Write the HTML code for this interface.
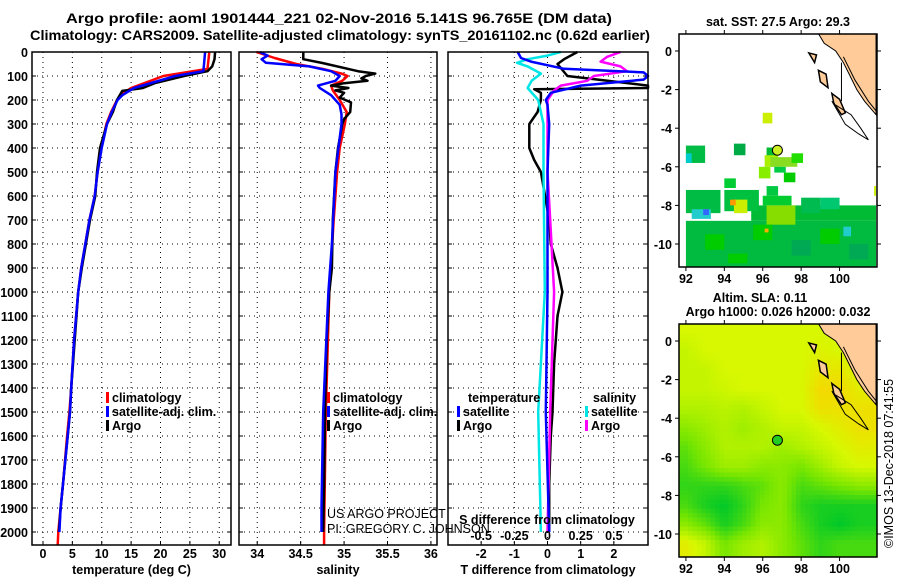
<!DOCTYPE html>
<html><head><meta charset="utf-8"><style>
html,body{margin:0;padding:0;background:#fff;}
svg{display:block;font-family:"Liberation Sans",sans-serif;}
.t{font-weight:bold;font-size:12.5px;fill:#000;}
.h{font-weight:bold;font-size:14px;fill:#000;}
</style></head><body>
<svg id="c" width="900" height="580" viewBox="0 0 900 580">
<rect width="900" height="580" fill="#fff"/>
<text class="h" x="66" y="23" textLength="546" lengthAdjust="spacingAndGlyphs">Argo profile: aoml 1901444_221 02-Nov-2016 5.141S 96.765E (DM data)</text>
<text class="h" x="30" y="40" textLength="620" lengthAdjust="spacingAndGlyphs">Climatology: CARS2009. Satellite-adjusted climatology: synTS_20161102.nc (0.62d earlier)</text>
</svg>
<script>
// ---------- data ----------
const depthTicks=[0,100,200,300,400,500,600,700,800,900,1000,1100,1200,1300,1400,1500,1600,1700,1800,1900,2000];
const tempTicks=[0,5,10,15,20,25,30];
const salTicks=[34,34.5,35,35.5,36];
const tdiffTicks=[-2,-1,0,1,2];
const sdiffTickLabels=["-0.5","-0.25","0","0.25","0.5"];
const tempArgoD=[0,30,60,80,100,130,150,162,200,250,300,400,500,600,700,800,900,1000,1100,1200,1300,1400,1500,1600,1700,1800,1900,2000];
const tempArgoV=[29.3,29.2,28.8,28.0,24,19,17,13.5,12.6,11.9,10.9,9.7,9.2,8.9,8.0,7.3,6.6,6.0,5.7,5.4,5.1,4.8,4.6,4.2,3.8,3.4,3.0,2.7];
const tempClimD=[0,70,100,150,180,200,250,300,400,500,600,700,800,900,1000,1200,1400,1500,1600,1800,1900,2000,2054];
const tempClimV=[28.3,28.0,20.5,15,13.2,12.6,11.6,10.8,9.9,9.3,8.8,7.9,7.2,6.5,6.0,5.3,4.8,4.5,4.1,3.4,3.0,2.6,2.5];
const tempSatD=[0,80,100,150,180,200,250,300,400,500,600,700,800,900,1000,1200,1400,1500,1600,1800,1900,2000];
const tempSatV=[27.6,27.3,22.5,15.5,13.5,12.7,11.7,10.9,10.0,9.3,8.8,7.9,7.2,6.5,6.0,5.3,4.8,4.6,4.2,3.4,3.0,2.8];
const salArgoD=[0,30,46,80,90,100,110,120,130,140,150,160,170,190,210,250,280,300,400,500,700,900,1000,1200,1500,1800,2000];
const salArgoV=[34.53,34.53,34.75,35.16,35.36,35.25,35.2,35.27,35.0,34.85,35.05,34.9,35.0,34.95,35.08,35.07,35.0,34.98,34.93,34.9,34.87,34.86,34.83,34.8,34.78,34.77,34.76];
const salClimD=[0,25,50,70,90,100,120,140,160,200,250,300,400,500,700,1000,1500,2000,2054];
const salClimV=[33.99,34.2,34.45,34.75,34.97,35.04,34.98,34.85,34.87,34.95,35.03,35.01,34.95,34.92,34.88,34.83,34.79,34.77,34.77];
const salSatD=[0,15,30,45,60,80,100,120,140,150,180,220,260,300,500,800,1000,1500,1900,2000];
const salSatV=[34.03,34.12,34.05,34.1,34.6,34.85,34.95,34.9,34.7,34.72,34.85,34.95,34.97,34.97,34.9,34.86,34.82,34.76,34.74,34.74];
const tdArgoD=[0,30,50,100,140,150,155,170,200,250,300,400,450,500,700,800,900,1000,1100,1300,1500,1600,1800,1900,2000];
const tdArgoV=[0.9,0.5,0.3,0.6,3.5,3.5,-0.4,-0.2,-0.2,-0.3,-0.55,-0.55,-0.4,-0.2,0.05,0.1,0.3,0.45,0.3,0.2,0.15,0.1,0.05,0.05,0.05];
const tdSatD=[0,25,40,70,85,100,115,140,170,200,220,300,500,1000,1500,2000];
const tdSatV=[-0.9,-0.8,-0.5,0.5,2.9,3.2,2.9,1.0,0.1,-0.05,0.0,0.05,0.0,0.0,-0.05,0.05];
const sdSatD=[0,15,30,45,60,90,120,150,200,300,500,1000,1500,2000];
const sdSatV=[0.1,0.0,-0.15,-0.23,-0.15,-0.05,-0.12,-0.15,-0.07,-0.03,-0.03,-0.02,-0.07,-0.05];
const sdArgoD=[0,20,40,60,80,100,120,140,160,200,300,500,700,1000,1500,2000];
const sdArgoV=[0.55,0.45,0.4,0.55,0.6,0.35,0.3,0.1,0.05,0.0,0.0,0.0,0.02,0.05,0.02,0.0];
// SLA field (rows lat 0.5 .. -10.5, cols lon 92 .. 101)
const slaGrid=[
[1,1,1,1,1,1,1,1,1,1],
[0.9,1,1,1,1,1,1,1.05,1,1],
[0.9,0.9,1,1,1,1,1,1.15,1.15,1],
[0.9,0.9,0.95,1,1,1,1,1.25,1.25,1.1],
[0.8,0.8,0.85,0.8,0.9,1,1,1.2,1.2,1.2],
[0.6,0.7,0.8,0.7,0.8,0.9,0.9,1,1.1,1.2],
[0.4,0.6,0.8,0.8,0.8,0.7,0.8,0.9,1,1.1],
[0.3,0.5,0.7,0.7,0.6,0.6,0.5,0.7,0.9,1],
[0.2,0.2,0.2,0.3,0.4,0.6,0.3,0.4,0.5,0.6],
[0.3,0.1,0.0,0.2,0.5,0.6,0.2,0.1,0.1,0.1],
[0.6,0.4,0.1,0.3,0.6,0.6,0.3,0.1,0.0,0.1],
[1.1,0.9,0.5,0.7,0.8,0.6,0.4,0.2,0.3,0.3]];
const sstPatches=[
['#00bb40',92,-8.8,101.9,-11.2],['#00bb33',95.4,-8.0,101.9,-8.8],['#00bb44',92,-7.2,93.8,-8.4],
['#00c040',94.0,-7.2,95.8,-8.3],['#00c840',96.2,-7.0,96.8,-7.5],['#00cc30',96.0,-7.5,97.5,-8.0],
['#00bb50',98.0,-7.6,99.0,-8.4],['#00c870',99.0,-7.6,100.0,-8.2],['#88dd00',96.2,-8.0,97.7,-9.0],
['#00cc00',93.0,-9.5,94.0,-10.3],['#00cc00',95.5,-9.0,96.5,-9.8],['#00aa55',97.5,-9.8,98.5,-10.6],
['#00cc00',99.0,-9.2,100.0,-10.0],['#00aa55',100.5,-10.0,101.5,-10.8],['#00cc00',94.2,-10.5,95.2,-11.0],
['#22cccc',92.3,-8.2,93.3,-8.7],['#3366ff',92.9,-8.2,93.2,-8.5],['#ccee00',94.5,-7.7,95.2,-8.4],
['#ff9900',94.3,-7.7,94.6,-8.0],['#ccee00',96,-3.2,96.5,-3.75],['#00bb44',92,-4.9,93,-5.8],
['#00cccc',92,-5.3,92.3,-5.8],['#00aa44',94.5,-4.8,95.1,-5.4],['#00bb33',96.2,-5.0,96.7,-5.5],
['#aaee00',96.1,-5.4,96.8,-6.0],['#88dd22',96.4,-5.5,97.8,-6.0],['#22dd00',97.5,-5.3,98.1,-5.8],
['#88ee00',95.8,-6.0,96.4,-6.6],['#00cc44',96.6,-6.0,97.2,-6.3],['#00cc00',97.1,-6.3,97.7,-6.8],
['#00cc33',94.0,-6.6,94.6,-7.1],['#22cccc',100.2,-9.1,100.6,-9.6],['#ffaa00',96.1,-9.2,96.3,-9.4],
['#ccee00',101.8,-7.0,101.9,-7.5]];
const landLon=[98.9,99.2,99.8,100.2,100.5,100.9,101.3,101.9,101.9];
const landLat=[0.9,0.4,0.0,-0.6,-1.2,-2.0,-2.6,-3.3,0.9];
const argoLon=96.765, argoLat=-5.141;
const lonTicks=[92,94,96,98,100];
const latTicks=[0,-2,-4,-6,-8,-10];

// ---------- drawing ----------
const NS="http://www.w3.org/2000/svg";
const svg=document.getElementById('c');
function el(tag,at,parent){const e=document.createElementNS(NS,tag);for(const k in at)e.setAttribute(k,at[k]);(parent||svg).appendChild(e);return e;}
function txt(s,x,y,cls,anchor,parent){const e=el('text',{x:x,y:y,class:cls||'t','text-anchor':anchor||'start'},parent);e.textContent=s;return e;}
const yTop=52,pxm=0.24;
const yD=d=>yTop+d*pxm;
const yBot=545;
const panels=[
 {x0:32,x1:231,v0:-1.87,v1:32.0,ticks:tempTicks,labels:tempTicks.map(String),name:'temperature-panel',xlabel:'temperature (deg C)'},
 {x0:239,x1:437,v0:33.79,v1:36.07,ticks:salTicks,labels:salTicks.map(String),name:'salinity-panel',xlabel:'salinity'},
 {x0:448,x1:648,v0:-3.0,v1:3.03,ticks:tdiffTicks,labels:tdiffTicks.map(String),name:'difference-panel',xlabel:'T difference from climatology'}];
panels.forEach((p,i)=>{
 const g=el('g',{});
 
 
 p.sx=v=>p.x0+(v-p.v0)/(p.v1-p.v0)*(p.x1-p.x0);
 p.g=g;
 depthTicks.forEach(d=>{const l=el('line',{x1:p.x0,x2:p.x1,y1:yD(d),y2:yD(d),stroke:'#000','stroke-width':1,'stroke-dasharray':'1,4'},g);
  
  el('line',{x1:p.x0,x2:p.x0+4,y1:yD(d),y2:yD(d),stroke:'#000'},g);el('line',{x1:p.x1-4,x2:p.x1,y1:yD(d),y2:yD(d),stroke:'#000'},g);});
 p.ticks.forEach((v,k)=>{const x=p.sx(v);
  const l=el('line',{x1:x,x2:x,y1:yTop,y2:yBot,stroke:'#000','stroke-dasharray':'1,4'},g);
  
  el('line',{x1:x,x2:x,y1:yBot-4,y2:yBot,stroke:'#000'},g);
  const t=txt(p.labels[k],x,558,'t','middle',g);
  });
 const xl=txt(p.xlabel,(p.x0+p.x1)/2,574,'t','middle',g);
 
});
depthTicks.forEach(d=>{const t=txt(String(d),28,yD(d)+5,'t','end');
 });
function line(p,D,V,color,name,scale){
 const s=scale||1;
 const pts=D.map((d,i)=>{let x=p.sx(V[i]*s);x=Math.max(p.x0,Math.min(p.x1,x));return x.toFixed(1)+','+yD(d).toFixed(1);}).join(' ');
 const e=el('polyline',{points:pts,fill:'none',stroke:color,'stroke-width':2.5,'stroke-linejoin':'round'},p.g);
 
}
const [P1,P2,P3]=panels;
line(P1,tempClimD,tempClimV,'#ff0000','temp-climatology-line');
line(P1,tempArgoD,tempArgoV,'#000','temp-argo-line');
line(P1,tempSatD,tempSatV,'#0000ff','temp-satellite-line');
line(P2,salClimD,salClimV,'#ff0000','salinity-climatology-line');
line(P2,salArgoD,salArgoV,'#000','salinity-argo-line');
line(P2,salSatD,salSatV,'#0000ff','salinity-satellite-line');
line(P3,tdArgoD,tdArgoV,'#000','tdiff-argo-line');
line(P3,sdArgoD,sdArgoV,'#ff00ff','sdiff-argo-line',4);
line(P3,sdSatD,sdSatV,'#00e5e5','sdiff-satellite-line',4);
line(P3,tdSatD,tdSatV,'#0000ff','tdiff-satellite-line');
panels.forEach(p=>{const r=el('rect',{x:p.x0,y:yTop,width:p.x1-p.x0,height:yBot-yTop,fill:'none',stroke:'#000','stroke-width':1.5});
 });
function legend(x,y,items,name){const g=el('g',{});
 items.forEach((it,i)=>{const yy=y+i*14;el('rect',{x:x,y:yy-10,width:3,height:11,fill:it[1]},g);const t=txt(it[0],x+6,yy,'t','start',g);
 });}
legend(106,402,[['climatology','#f00'],['satellite-adj. clim.','#00f'],['Argo','#000']],'temperature-legend');
legend(327,402,[['climatology','#f00'],['satellite-adj. clim.','#00f'],['Argo','#000']],'salinity-legend');
txt('temperature',468,402,'t','start');
legend(457,416,[['satellite','#00f'],['Argo','#000']],'tdiff-legend');
txt('salinity',593,402,'t','start');
legend(585,416,[['satellite','#00e5e5'],['Argo','#f0f']],'sdiff-legend');
const sd=txt('S difference from climatology',547,524,'t','middle');
tdiffTicks.forEach((v,k)=>{const t=txt(sdiffTickLabels[k],P3.sx(v),540,'t','middle');});
const cr1=el('text',{x:327,y:518,'font-size':12.5,fill:'#000'});cr1.textContent='US ARGO PROJECT';
const cr2=el('text',{x:327,y:533,'font-size':12.5,fill:'#000'});cr2.textContent='PI: GREGORY C. JOHNSON';

// ---------- maps ----------
const mx0=679,mx1=877,lonA=91.64,lonB=101.95;
const mX=lon=>mx0+(lon-lonA)/(lonB-lonA)*(mx1-mx0);
function makeMap(top,name){
 const lat0y=top+17,ppd=19.3;
 const mY=lat=>lat0y-lat*ppd;
 const bottom=top+233;
 const g=el('g',{});
 const cid='clip'+top;const cp=el('clipPath',{id:cid},g);el('rect',{x:mx0,y:top,width:mx1-mx0,height:bottom-top},cp);
 const inner=el('g',{'clip-path':'url(#'+cid+')'},g);
 return {g,inner,mY,top,bottom};
}
function finishMap(m,argoFill){
 const land=el('polygon',{points:landLon.map((l,i)=>mX(l)+','+m.mY(landLat[i])).join(' '),fill:'#ffcc99',stroke:'#000','stroke-width':1},m.inner);
 
 [[[98.4,-0.1],[98.8,-0.2],[98.7,-0.6]],[[98.9,-1.0],[99.3,-1.2],[99.4,-1.9],[99.0,-1.6]],[[99.6,-2.2],[100.0,-2.5],[100.3,-3.2],[100.1,-3.3],[99.7,-2.7]]].forEach(isl=>{
  el('polygon',{points:isl.map(p=>mX(p[0])+','+m.mY(p[1])).join(' '),fill:'#ffcc99',stroke:'#000','stroke-width':1.5},m.inner);});
 el('polyline',{points:[[100.1,-0.6],[100.1,-2.6]].map(p=>mX(p[0])+','+m.mY(p[1])).join(' '),stroke:'#000',fill:'none'},m.inner);
 el('polyline',{points:[[99.8,-2.8],[100.6,-3.3],[101.1,-4.0],[101.5,-4.6],[101.0,-4.3],[100.3,-3.8],[99.6,-2.6]].map(p=>mX(p[0])+','+m.mY(p[1])).join(' '),stroke:'#000',fill:'none'},m.inner);
 el('polyline',{points:[[100.2,-0.3],[100.8,-1.5],[101.5,-2.6],[101.9,-3.1]].map(p=>mX(p[0])+','+m.mY(p[1])).join(' '),stroke:'#000',fill:'none'},m.inner);
 const pt=el('circle',{cx:mX(argoLon),cy:m.mY(argoLat),r:5,fill:argoFill,stroke:'#000','stroke-width':1},m.g);
 
 el('rect',{x:mx0,y:m.top,width:mx1-mx0,height:m.bottom-m.top,fill:'none',stroke:'#000','stroke-width':1.5},m.g);
 lonTicks.forEach(l=>{const x=mX(l);el('line',{x1:x,x2:x,y1:m.bottom,y2:m.bottom+4,stroke:'#000'},m.g);el('line',{x1:x,x2:x,y1:m.top-4,y2:m.top,stroke:'#000'},m.g);
  const t=txt(String(l),x,m.bottom+16,'t','middle',m.g);});
 latTicks.forEach(l=>{const y=m.mY(l);el('line',{x1:mx0-4,x2:mx0,y1:y,y2:y,stroke:'#000'},m.g);el('line',{x1:mx1,x2:mx1+4,y1:y,y2:y,stroke:'#000'},m.g);
  const t=txt(String(l),672,y+5,'t','end',m.g);});
}
// top SST map
const m1=makeMap(34,'sst-map');
sstPatches.forEach(p=>{const r=el('rect',{x:mX(p[1]),y:m1.mY(p[2]),width:mX(p[3])-mX(p[1]),height:m1.mY(p[4])-m1.mY(p[2]),fill:p[0]},m1.inner);
 });
finishMap(m1,'#ccee22');
txt('sat. SST: 27.5 Argo: 29.3',778,26,'t','middle');
// bottom SLA map
const m2=makeMap(324,'sla-map');
function cmap(v){const stops=[[0,[0,200,40]],[0.5,[120,230,0]],[1.0,[215,248,0]],[1.3,[248,212,0]]];
 v=Math.max(0,Math.min(1.3,v));for(let i=0;i<stops.length-1;i++){const a=stops[i],b=stops[i+1];if(v<=b[0]){const f=(v-a[0])/(b[0]-a[0]);return 'rgb('+a[1].map((c,j)=>Math.round(c+(b[1][j]-c)*f)).join(',')+')';}}return 'rgb(248,212,0)';}
function sla(lon,lat){let c=lon-92,r=(0.5-lat);c=Math.max(0,Math.min(9,c));r=Math.max(0,Math.min(11,r));
 const c0=Math.min(8,Math.floor(c)),r0=Math.min(10,Math.floor(r));const fc=c-c0,fr=r-r0;
 const a=slaGrid[r0][c0],b=slaGrid[r0][c0+1],d=slaGrid[r0+1][c0],e=slaGrid[r0+1][c0+1];
 return a*(1-fc)*(1-fr)+b*fc*(1-fr)+d*(1-fc)*fr+e*fc*fr;}
const cs=4.5;
for(let y=m2.top;y<m2.bottom;y+=cs){for(let x=mx0;x<mx1;x+=cs){
 const lon=lonA+(x+cs/2-mx0)/(mx1-mx0)*(lonB-lonA);const lat=(m2.top+17-(y+cs/2))/19.3;
 el('rect',{x:x,y:y,width:cs+0.5,height:cs+0.5,fill:cmap(sla(lon,lat))},m2.inner);}}
finishMap(m2,'#22cc22');
txt('Altim. SLA: 0.11',760,302,'t','middle');
txt('Argo h1000: 0.026 h2000: 0.032',778,316,'t','middle');
const cp=el('text',{x:0,y:0,'font-size':12.5,fill:'#000',transform:'translate(893,548) rotate(-90)'});
cp.textContent='©IMOS 13-Dec-2018 07:41:55';
</script>
</body></html>
